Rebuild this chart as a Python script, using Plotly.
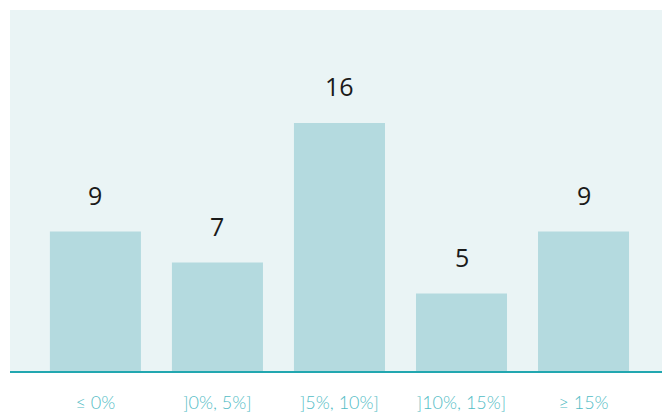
import plotly.graph_objects as go

categories = ["≤ 0%", "]0%, 5%]", "]5%, 10%]", "]10%, 15%]", "≥ 15%"]
counts = [9, 7, 16, 5, 9]

fig = go.Figure()
fig.add_trace(go.Bar(
    x=categories, y=counts,
    marker=dict(color="#b4dadf", line=dict(width=0)),
    hoverinfo="skip",
))

for c, v in zip(categories, counts):
    fig.add_annotation(
        x=c, y=v, text=str(v), showarrow=False,
        yanchor="middle", yshift=37,
        font=dict(family="Open Sans", size=25, color="#1a1a1a"),
    )

fig.update_layout(
    width=662, height=412,
    margin=dict(l=10, r=0, t=10, b=41),
    paper_bgcolor="white",
    plot_bgcolor="#eaf4f5",
    bargap=0.254,
    showlegend=False,
    xaxis=dict(
        range=[-0.70, 4.643],
        automargin=False,
        showline=True, linecolor="#22a7b0", linewidth=2,
        layer="below traces",
        showgrid=False, zeroline=False,
        ticks="outside", ticklen=14, tickcolor="rgba(0,0,0,0)",
        tickfont=dict(family="Lato", size=18, color="#52bcc5", weight=300),
        fixedrange=True,
    ),
    yaxis=dict(
        range=[0, 23.3],
        automargin=False,
        showgrid=False, zeroline=False, showticklabels=False,
        showline=False, fixedrange=True,
    ),
)

fig.write_html(
    "out.html",
    config={"displayModeBar": False},
    post_script="document.body.style.margin='0';document.body.style.overflow='hidden';",
)
